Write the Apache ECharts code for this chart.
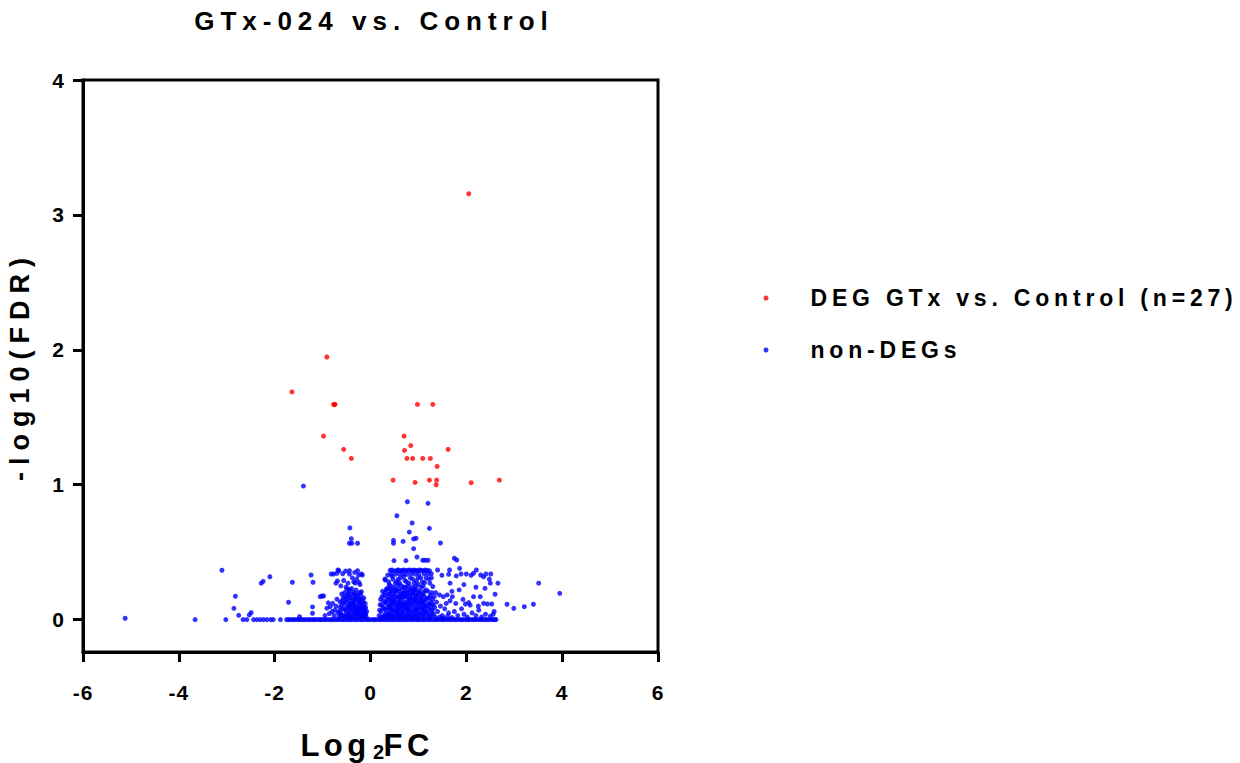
<!DOCTYPE html>
<html>
<head>
<meta charset="utf-8">
<script src="https://cdn.jsdelivr.net/npm/echarts@6/dist/echarts.min.js"></script>
<style>
  html, body { margin: 0; padding: 0; background: #fff; }
  #chart { width: 1240px; height: 763px; }
</style>
</head>
<body>
<div id="chart"></div>
<script>
// Volcano plot: GTx-024 vs. Control
const chartTitle = 'GTx-024 vs. Control';
const xAxisName = '{a|Log}{b|2}{c|FC}';
const yAxisName = '-log10(FDR)';
const degName = 'DEG GTx vs. Control (n=27)';
const nonDegName = 'non-DEGs';
const xTicks = [-6, -4, -2, 0, 2, 4, 6];
const yTicks = [0, 1, 2, 3, 4];

// Differentially expressed genes [log2FC, -log10(FDR)]
const degPoints = [
  [2.05, 3.157], [-0.91, 1.947], [-1.64, 1.688], [-0.77, 1.595], [-0.74, 1.595],
  [0.98, 1.595], [1.30, 1.595], [-0.98, 1.36], [0.70, 1.36], [0.84, 1.29],
  [-0.56, 1.262], [0.71, 1.254], [1.62, 1.262], [-0.40, 1.195], [0.76, 1.195],
  [0.88, 1.195], [1.09, 1.195], [1.25, 1.195], [1.39, 1.136], [0.47, 1.034],
  [0.93, 1.017], [1.23, 1.034], [1.38, 1.034], [1.37, 1.0], [2.10, 1.015],
  [2.69, 1.034], [-0.75, 1.595]
];

// Genes with FDR = 1 (-log10(FDR) = 0): log2FC values
const nonDegZeroX = [
  -3.66, -3.02, -2.66, -2.58, -2.44, -2.37, -2.30, -2.23, -2.16, -2.08, -2.03, -1.88,
  -1.75, -1.71, -1.67, -1.62, -1.58, -1.53, -1.49, -1.45, -1.40, -1.36, -1.31, -1.27,
  -1.22, -1.18, -1.14, -1.09, -1.05, -1.01, -0.96, -0.92, -0.87, -0.83, -0.79, -0.74,
  -0.70, -0.66, -0.61, -0.57, -0.53, -0.48, -0.44, -0.40, -0.35, -0.31, -0.27, -0.22,
  -0.18, -0.14, -0.09, -0.05, -0.01, 0.04, 0.08, 0.12, 0.17, 0.21, 0.25, 0.30,
  0.34, 0.38, 0.43, 0.47, 0.51, 0.56, 0.60, 0.64, 0.69, 0.73, 0.77, 0.82,
  0.86, 0.90, 0.95, 0.99, 1.03, 1.08, 1.12, 1.16, 1.21, 1.25, 1.29, 1.34,
  1.38, 1.42, 1.47, 1.51, 1.55, 1.60, 1.64, 1.68, 1.73, 1.77, 1.81, 1.86,
  1.90, 1.94, 1.99, 2.03, 2.07, 2.12, 2.16, 2.20, 2.25, 2.29, 2.33, 2.38,
  2.42, 2.46, 2.51, 2.55, 2.59, 2.62
];

// Remaining non-DEGs [log2FC, -log10(FDR)]
const nonDegPoints = [
  // far left
  [-5.12, 0.01], [-3.10, 0.366], [-2.85, 0.084], [-2.82, 0.173], [-2.75, 0.032],
  [-2.53, 0.035], [-2.49, 0.052], [-2.28, 0.27], [-2.24, 0.284], [-2.10, 0.318],
  [-1.71, 0.129], [-1.63, 0.277], [-1.48, 0.022], [-1.40, 0.99], [-1.24, 0.331],
  [-1.20, 0.277], [-1.21, 0.094], [-1.21, 0.047], [-1.05, 0.17], [-1.01, 0.175],
  [-0.98, 0.175],
  // negative cluster
  [-0.88, 0.124], [-0.84, 0.096], [-0.79, 0.121], [-0.91, 0.085], [-0.86, 0.045],
  [-0.80, 0.06], [-0.76, 0.03], [-0.72, 0.10], [-0.70, 0.151], [-0.74, 0.07],
  [-0.68, 0.05], [-0.95, 0.03],
  [-0.82, 0.338], [-0.77, 0.338], [-0.70, 0.344], [-0.66, 0.363], [-0.68, 0.368],
  [-0.44, 0.363], [-0.44, 0.338], [-0.27, 0.363], [-0.19, 0.338], [-0.17, 0.331],
  [-0.69, 0.287], [-0.72, 0.27], [-0.35, 0.28], [-0.24, 0.276], [-0.32, 0.27],
  [-0.49, 0.225], [-0.44, 0.225], [-0.19, 0.207],
  [-0.43, 0.68], [-0.40, 0.60], [-0.44, 0.566], [-0.39, 0.566], [-0.27, 0.566],
  [-0.62, 0.25], [-0.56, 0.29], [-0.47, 0.27], [-0.38, 0.31], [-0.29, 0.30],
  [-0.22, 0.26], [-0.58, 0.34], [-0.52, 0.36], [-0.33, 0.35], [-0.25, 0.33],
  [-0.66, 0.02], [-0.62, 0.05], [-0.60, 0.11], [-0.58, 0.03], [-0.57, 0.16],
  [-0.55, 0.08], [-0.54, 0.20], [-0.53, 0.02], [-0.52, 0.13], [-0.50, 0.05],
  [-0.49, 0.10], [-0.48, 0.18], [-0.47, 0.03], [-0.46, 0.14], [-0.45, 0.07],
  [-0.44, 0.21], [-0.43, 0.01], [-0.42, 0.12], [-0.41, 0.05], [-0.40, 0.17],
  [-0.39, 0.09], [-0.38, 0.03], [-0.37, 0.14], [-0.36, 0.06], [-0.35, 0.20],
  [-0.34, 0.11], [-0.33, 0.02], [-0.32, 0.16], [-0.31, 0.08], [-0.30, 0.04],
  [-0.29, 0.13], [-0.28, 0.19], [-0.27, 0.06], [-0.26, 0.10], [-0.25, 0.02],
  [-0.24, 0.15], [-0.23, 0.08], [-0.22, 0.04], [-0.21, 0.12], [-0.20, 0.18],
  [-0.19, 0.06], [-0.18, 0.10], [-0.17, 0.02], [-0.16, 0.14], [-0.15, 0.05],
  [-0.14, 0.09], [-0.13, 0.03], [-0.12, 0.07], [-0.11, 0.12], [-0.10, 0.04],
  [-0.09, 0.02], [-0.08, 0.06],
  [-0.64, 0.09], [-0.59, 0.14], [-0.51, 0.24], [-0.46, 0.04], [-0.42, 0.08],
  [-0.39, 0.23], [-0.36, 0.12], [-0.33, 0.09], [-0.30, 0.22], [-0.27, 0.15],
  [-0.25, 0.07], [-0.22, 0.20], [-0.20, 0.03], [-0.17, 0.08], [-0.14, 0.16],
  [-0.12, 0.02],
  [-0.65, 0.06], [-0.63, 0.13], [-0.61, 0.03], [-0.60, 0.19], [-0.58, 0.08],
  [-0.56, 0.12], [-0.55, 0.03], [-0.53, 0.17], [-0.52, 0.07], [-0.50, 0.15],
  [-0.49, 0.02], [-0.47, 0.09], [-0.46, 0.19], [-0.44, 0.11], [-0.43, 0.16],
  [-0.41, 0.09], [-0.40, 0.02], [-0.38, 0.12], [-0.37, 0.19], [-0.35, 0.08],
  [-0.34, 0.15], [-0.32, 0.05], [-0.31, 0.18], [-0.29, 0.09], [-0.28, 0.03],
  [-0.26, 0.17], [-0.24, 0.05], [-0.23, 0.12], [-0.21, 0.08], [-0.19, 0.15],
  [-0.18, 0.04], [-0.16, 0.10], [-0.15, 0.12], [-0.13, 0.08], [-0.11, 0.05],
  [-0.10, 0.09],
  // positive cluster, upper part
  [0.77, 0.874], [1.20, 0.862], [0.55, 0.770], [0.87, 0.716], [1.23, 0.677],
  [0.81, 0.649], [0.48, 0.588], [0.48, 0.566], [0.68, 0.58], [0.90, 0.598],
  [0.95, 0.603], [0.90, 0.526], [1.46, 0.568], [0.97, 0.464], [0.49, 0.437],
  [0.74, 0.437], [1.09, 0.44], [1.14, 0.44], [1.20, 0.44], [1.75, 0.455],
  [1.80, 0.442],
  [0.41, 0.365], [0.45, 0.368], [0.50, 0.36], [0.55, 0.365], [0.58, 0.368],
  [0.62, 0.362], [0.66, 0.365], [0.70, 0.368], [0.74, 0.362], [0.78, 0.366],
  [0.82, 0.368], [0.86, 0.363], [0.90, 0.367], [0.94, 0.365], [0.98, 0.362],
  [1.02, 0.368], [1.06, 0.365], [1.10, 0.363], [1.14, 0.367], [1.18, 0.365],
  [1.23, 0.362], [1.40, 0.368], [1.49, 0.329],
  [0.43, 0.338], [0.52, 0.336], [0.60, 0.34], [0.68, 0.338], [0.76, 0.335],
  [0.85, 0.34], [0.93, 0.338], [1.01, 0.336], [1.12, 0.34], [1.20, 0.338],
  [1.27, 0.34],
  [0.36, 0.33], [0.31, 0.294], [0.47, 0.30], [0.55, 0.28], [0.63, 0.31],
  [0.72, 0.29], [0.80, 0.27], [0.88, 0.30], [0.96, 0.285], [1.05, 0.31],
  [1.13, 0.275], [1.22, 0.30], [1.27, 0.31], [1.30, 0.245], [0.39, 0.26],
  [0.65, 0.25], [1.00, 0.26],
  [0.30, 0.30], [0.38, 0.28], [0.45, 0.32], [0.52, 0.27], [0.58, 0.30],
  [0.61, 0.27], [0.69, 0.32], [0.75, 0.28], [0.83, 0.31], [0.91, 0.27],
  [0.99, 0.31], [1.08, 0.28], [1.16, 0.31], [1.24, 0.27], [0.42, 0.25],
  [0.57, 0.26], [0.78, 0.25], [0.95, 0.25], [1.10, 0.25],
  // positive cluster, dense part
  [0.18, 0.03], [0.20, 0.11], [0.22, 0.06], [0.24, 0.17], [0.24, 0.109],
  [0.26, 0.02], [0.27, 0.14], [0.29, 0.08], [0.30, 0.20], [0.31, 0.04],
  [0.33, 0.12], [0.34, 0.17], [0.35, 0.02], [0.36, 0.09], [0.37, 0.23],
  [0.38, 0.05], [0.39, 0.14], [0.40, 0.19], [0.41, 0.03], [0.42, 0.11],
  [0.43, 0.07], [0.44, 0.21], [0.45, 0.16], [0.46, 0.02], [0.47, 0.12],
  [0.48, 0.24], [0.49, 0.05], [0.50, 0.18], [0.51, 0.09], [0.52, 0.14],
  [0.53, 0.03], [0.54, 0.21], [0.55, 0.07], [0.56, 0.12], [0.57, 0.17],
  [0.58, 0.04], [0.59, 0.23], [0.60, 0.10], [0.61, 0.15], [0.62, 0.02],
  [0.63, 0.19], [0.64, 0.08], [0.65, 0.13], [0.66, 0.22], [0.67, 0.05],
  [0.68, 0.16], [0.69, 0.10], [0.70, 0.20], [0.71, 0.03], [0.72, 0.13],
  [0.73, 0.07], [0.74, 0.24], [0.75, 0.17], [0.76, 0.11], [0.77, 0.04],
  [0.78, 0.20], [0.79, 0.14], [0.80, 0.08], [0.81, 0.02], [0.82, 0.18],
  [0.83, 0.12], [0.84, 0.22], [0.85, 0.06], [0.86, 0.15], [0.87, 0.10],
  [0.88, 0.03], [0.89, 0.19], [0.90, 0.13], [0.91, 0.07], [0.92, 0.23],
  [0.93, 0.16], [0.94, 0.04], [0.95, 0.11], [0.96, 0.20], [0.97, 0.08],
  [0.98, 0.14], [0.99, 0.02], [1.00, 0.18], [1.02, 0.10], [1.03, 0.05],
  [1.04, 0.21], [1.05, 0.15], [1.07, 0.08], [1.08, 0.12], [1.09, 0.03],
  [1.10, 0.19], [1.12, 0.06], [1.13, 0.14], [1.15, 0.10], [1.16, 0.22],
  [1.18, 0.04], [1.19, 0.16], [1.21, 0.08], [1.22, 0.12], [1.24, 0.02],
  [1.25, 0.18], [1.27, 0.06], [1.28, 0.11], [1.30, 0.15], [1.32, 0.04],
  [1.34, 0.09], [1.36, 0.20], [1.38, 0.13], [1.40, 0.06], [1.44, 0.183],
  [1.52, 0.17], [1.60, 0.183], [1.46, 0.10], [1.50, 0.03], [1.55, 0.08],
  [1.58, 0.12], [1.63, 0.05], [1.66, 0.14],
  [0.28, 0.015], [0.37, 0.01], [0.45, 0.025], [0.53, 0.015], [0.61, 0.03],
  [0.69, 0.015], [0.77, 0.02], [0.85, 0.01], [0.93, 0.025], [1.01, 0.015],
  [1.11, 0.02], [1.20, 0.015], [1.29, 0.03], [1.37, 0.015], [1.45, 0.02],
  [1.53, 0.01], [1.61, 0.025], [1.70, 0.015],
  [0.40, 0.08], [0.48, 0.13], [0.56, 0.06], [0.64, 0.18], [0.72, 0.09],
  [0.80, 0.15], [0.88, 0.21], [0.96, 0.05], [1.04, 0.13], [1.12, 0.17],
  [0.52, 0.23], [0.70, 0.24], [0.86, 0.24], [1.06, 0.24], [0.34, 0.23],
  [0.44, 0.13], [0.62, 0.11], [0.78, 0.07], [0.94, 0.18], [1.14, 0.05],
  [0.19, 0.07], [0.21, 0.15], [0.23, 0.02], [0.25, 0.21], [0.26, 0.09],
  [0.28, 0.18], [0.29, 0.03], [0.31, 0.13], [0.32, 0.07], [0.33, 0.22],
  [0.35, 0.15], [0.36, 0.04], [0.38, 0.19], [0.39, 0.10], [0.41, 0.16],
  [0.42, 0.22], [0.43, 0.04], [0.44, 0.09], [0.46, 0.19], [0.47, 0.07],
  [0.49, 0.15], [0.50, 0.02], [0.51, 0.21], [0.53, 0.11], [0.54, 0.06],
  [0.55, 0.17], [0.57, 0.09], [0.58, 0.21], [0.59, 0.13], [0.60, 0.05],
  [0.62, 0.16], [0.63, 0.08], [0.65, 0.03], [0.66, 0.11], [0.67, 0.19],
  [0.68, 0.06], [0.70, 0.12], [0.71, 0.17], [0.73, 0.21], [0.74, 0.03],
  [0.75, 0.09], [0.76, 0.19], [0.78, 0.12], [0.79, 0.05], [0.80, 0.22],
  [0.82, 0.09], [0.83, 0.16], [0.84, 0.03], [0.86, 0.12], [0.87, 0.19],
  [0.89, 0.06], [0.90, 0.22], [0.91, 0.15], [0.92, 0.02], [0.93, 0.09],
  [0.95, 0.16], [0.96, 0.13], [0.97, 0.22], [0.99, 0.07], [1.00, 0.12],
  [1.01, 0.20], [1.03, 0.16], [1.05, 0.04], [1.06, 0.09], [1.07, 0.18],
  [1.09, 0.14], [1.10, 0.07], [1.11, 0.11], [1.13, 0.21], [1.14, 0.09],
  [1.16, 0.15], [1.17, 0.06], [1.19, 0.11], [1.20, 0.21], [1.22, 0.04],
  [1.23, 0.16], [1.25, 0.09], [1.26, 0.13], [1.28, 0.20], [1.29, 0.07],
  [1.31, 0.11], [1.33, 0.17],
  // positive side, sparse tail
  [1.63, 0.336], [1.79, 0.324], [1.89, 0.338], [2.00, 0.338], [2.10, 0.329],
  [2.15, 0.344], [2.30, 0.331], [2.36, 0.318], [2.41, 0.338], [2.51, 0.338],
  [1.65, 0.368], [1.86, 0.38], [2.21, 0.368], [2.48, 0.30], [2.50, 0.27],
  [2.66, 0.27], [1.66, 0.27], [1.85, 0.22], [2.39, 0.232], [2.60, 0.188],
  [1.71, 0.17], [2.15, 0.17], [2.29, 0.17], [1.98, 0.116], [2.05, 0.126],
  [2.08, 0.107], [2.36, 0.121], [2.44, 0.116], [2.53, 0.116],
  [1.75, 0.06], [1.82, 0.03], [1.90, 0.08], [1.95, 0.04], [2.02, 0.02],
  [2.12, 0.05], [2.20, 0.03], [2.26, 0.07], [2.32, 0.02], [2.40, 0.04],
  [2.50, 0.025], [2.56, 0.04], [2.58, 0.06], [1.78, 0.12], [1.93, 0.15],
  [2.25, 0.10], [1.70, 0.21], [1.95, 0.26], [2.20, 0.24],
  // far right
  [2.85, 0.114], [2.99, 0.084], [3.21, 0.096], [3.40, 0.114], [3.51, 0.27],
  [3.95, 0.195]
];

const FONT = '"Liberation Sans", Arial, sans-serif';
// letter spacing (px) for each font size used below
const spacingBySize = { 21: 1, 23: 4.8, 26: 6, 27: 7, 31: 4.5 };

const nonDegData = nonDegZeroX.map(x => [x, 0]).concat(nonDegPoints);

const chart = echarts.init(document.getElementById('chart'), null, { renderer: 'svg' });

const axisText = { fontFamily: FONT, fontWeight: 'bold', color: '#000' };

chart.setOption({
  animation: false,
  backgroundColor: '#fff',
  title: {
    text: chartTitle,
    left: 369,
    top: 3,
    textAlign: 'center',
    textStyle: { fontFamily: FONT, fontWeight: 'bold', fontSize: 26, color: '#000' }
  },
  legend: {
    orient: 'vertical',
    left: 763.5,
    top: 285,
    padding: 0,
    itemWidth: 5,
    itemHeight: 5,
    itemGap: 26,
    icon: 'circle',
    data: [degName, nonDegName],
    textStyle: {
      fontFamily: FONT, fontWeight: 'bold', fontSize: 23, lineHeight: 26, color: '#000',
      padding: [0, 0, 0, 37]
    }
  },
  grid: {
    left: 83, top: 80, width: 575, height: 572,
    outerBoundsMode: 'none', containLabel: false,
    show: true, borderColor: '#000', borderWidth: 3, backgroundColor: 'transparent'
  },
  xAxis: {
    type: 'value', min: -6, max: 6, interval: 2,
    axisLine: { onZero: false, lineStyle: { color: '#000', width: 3 } },
    axisTick: { length: 10, lineStyle: { color: '#000', width: 3 } },
    splitLine: { show: false },
    axisLabel: Object.assign({ fontSize: 21, margin: 30 }, axisText),
    name: xAxisName,
    nameLocation: 'middle',
    nameGap: 76,
    nameTextStyle: Object.assign({
      fontSize: 31,
      rich: {
        // runs of the name with a subscript "2"
        a: Object.assign({ fontSize: 31, lineHeight: 34, padding: [0, 9, 0, 0] }, axisText),
        b: Object.assign({ fontSize: 20, lineHeight: 18, verticalAlign: 'bottom', padding: [0, 4, 0, 0] }, axisText),
        c: Object.assign({ fontSize: 31, lineHeight: 34, padding: [0, 4.5, 0, 0] }, axisText)
      }
    }, axisText)
  },
  yAxis: {
    type: 'value', min: -0.24, max: 4,
    axisLine: { onZero: false, lineStyle: { color: '#000', width: 3 } },
    axisTick: { length: 10, customValues: yTicks, lineStyle: { color: '#000', width: 3 } },
    splitLine: { show: false },
    axisLabel: Object.assign({ fontSize: 21, margin: 18, customValues: yTicks }, axisText),
    name: yAxisName,
    nameLocation: 'middle',
    nameRotate: 90,
    nameGap: 50,
    nameTextStyle: Object.assign({ fontSize: 27 }, axisText)
  },
  series: [
    {
      name: nonDegName, type: 'scatter', data: nonDegData,
      symbol: 'circle', symbolSize: 5, itemStyle: { color: '#0000ff' }, z: 2
    },
    {
      name: degName, type: 'scatter', data: degPoints,
      symbol: 'circle', symbolSize: 5, itemStyle: { color: '#ff0000' }, z: 3
    }
  ]
});

function applySpacing() {
  document.querySelectorAll('#chart svg text').forEach(t => {
    const fs = Math.round(parseFloat(getComputedStyle(t).fontSize));
    const s = spacingBySize[fs];
    if (s != null) t.style.letterSpacing = s + 'px';
  });
}
chart.on('finished', applySpacing);
applySpacing();
setTimeout(applySpacing, 50);
</script>
</body>
</html>
